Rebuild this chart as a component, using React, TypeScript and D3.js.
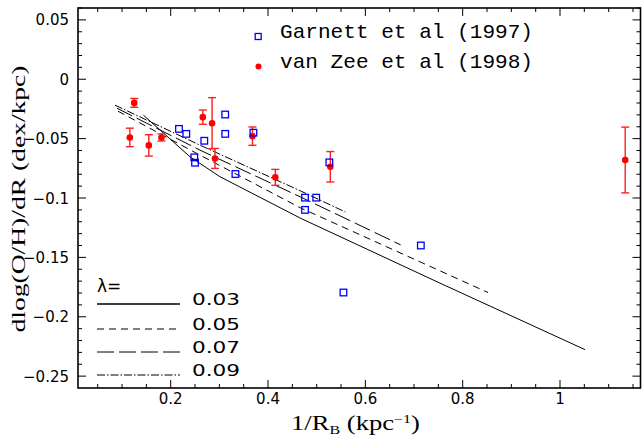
import React from "react";
import * as d3 from "d3";

// ---------- data ----------
const garnettX = [0.217, 0.232, 0.269, 0.2485, 0.25, 0.312, 0.312, 0.37, 0.333, 0.526, 0.476, 0.499, 0.476, 0.714, 0.555];
const garnettY = [-0.0418, -0.046, -0.0518, -0.0658, -0.0703, -0.0297, -0.046, -0.045, -0.0798, -0.07, -0.0997, -0.0997, -0.11, -0.14, -0.1796];

const vanZeeX = [0.125, 0.116, 0.155, 0.181, 0.266, 0.285, 0.291, 0.368, 0.415, 0.528, 1.134];
const vanZeeY = [-0.0199, -0.049, -0.0557, -0.049, -0.0319, -0.037, -0.0667, -0.0479, -0.0826, -0.0737, -0.068];
const vanZeeErr = [0.0037, 0.0078, 0.009, 0.003, 0.006, 0.0215, 0.0084, 0.0077, 0.0067, 0.0128, 0.0277];

const lambdaLabels = ["0.03", "0.05", "0.07", "0.09"];
const model003X = [0.1441, 0.2397, 0.3013, 0.4671, 0.7534, 1.0514];
const model003Y = [-0.0303, -0.0653, -0.0821, -0.1171, -0.1717, -0.2277];
const model005X = [0.0917, 0.2602, 0.4671, 0.8521];
const model005Y = [-0.0269, -0.0639, -0.1084, -0.1796];
const model007X = [0.0896, 0.2602, 0.4671, 0.6726];
const model007Y = [-0.0244, -0.0597, -0.0992, -0.1395];
const model009X = [0.0855, 0.2602, 0.4671, 0.559];
const model009Y = [-0.0218, -0.0555, -0.0941, -0.1118];

const xTickLabels = ["0.2", "0.4", "0.6", "0.8", "1"];
const yTickLabels = ["0.05", "0", "-0.05", "-0.1", "-0.15", "-0.2", "-0.25"];

const L = 78, R = 640.5, T = 8, B = 388;

export default function App() {
  const x = d3.scaleLinear().domain([0.0095, 1.1654]).range([L, R]);
  const y = d3.scaleLinear().domain([-0.26, 0.06]).range([B, T]);

  const line = d3.line<[number, number]>().x(d => x(d[0])).y(d => y(d[1]));
  const models = [
    { xs: model003X, ys: model003Y, dash: "none" },
    { xs: model005X, ys: model005Y, dash: "7,5" },
    { xs: model007X, ys: model007Y, dash: "17,5" },
    { xs: model009X, ys: model009Y, dash: "8,2,1.5,2" },
  ];

  const xMinor = d3.range(0.05, 1.16, 0.05);
  const yMinor = d3.range(-0.25, 0.0601, 0.01);
  const xMajor = xTickLabels.map(Number);
  const yMajor = yTickLabels.map(Number);
  const isMajorX = (v: number) => xMajor.some(m => Math.abs(m - v) < 1e-6);
  const isMajorY = (v: number) => yMajor.some(m => Math.abs(m - v) < 1e-6);

  const tickFont = "'DejaVu Sans', sans-serif";
  const fmt = (s: string) => s.replace("-", "\u2212");

  return (
    <div style={{ position: "absolute", left: 0, top: 0 }}>
      <svg width={642} height={436} style={{ display: "block", background: "#fff" }}>
        {/* ticks */}
        {xMinor.map((v, i) => {
          const len = isMajorX(v) ? 8 : 4;
          return (
            <g key={"xt" + i} stroke="#000" strokeWidth={1}>
              <line x1={x(v)} x2={x(v)} y1={B} y2={B - len} />
              <line x1={x(v)} x2={x(v)} y1={T} y2={T + len} />
            </g>
          );
        })}
        {yMinor.map((v, i) => {
          const len = isMajorY(v) ? 8 : 4;
          return (
            <g key={"yt" + i} stroke="#000" strokeWidth={1}>
              <line x1={L} x2={L + len} y1={y(v)} y2={y(v)} />
              <line x1={R} x2={R - len} y1={y(v)} y2={y(v)} />
            </g>
          );
        })}
        <rect x={L} y={T} width={R - L} height={B - T} fill="none" stroke="#000" strokeWidth={1.6} />

        {/* tick labels */}
        {xTickLabels.map((s, i) => (
          <text key={"xl" + i} x={x(Number(s))} y={404} textAnchor="middle" fontFamily={tickFont} fontSize={15}>{s}</text>
        ))}
        {yTickLabels.map((s, i) => (
          <text key={"yl" + i} x={69} y={y(Number(s)) + 5.5} textAnchor="end" fontFamily={tickFont} fontSize={15}>{fmt(s)}</text>
        ))}

        {/* axis titles */}
        <text x={291} y={430} fontFamily="'Liberation Serif', serif" fontSize={20} textLength={129} lengthAdjust="spacingAndGlyphs">
          1/R<tspan fontSize={12} dy={4}>B</tspan><tspan dy={-4}> (kpc</tspan><tspan fontSize={12} dy={-7}>−1</tspan><tspan dy={7}>)</tspan>
        </text>
        <text transform="translate(25,199) rotate(-90)" textAnchor="middle" fontFamily="'Liberation Serif', serif" fontSize={18} textLength={267} lengthAdjust="spacingAndGlyphs">
          dlog(O/H)/dR (dex/kpc)
        </text>

        {/* model lines */}
        <g clipPath="url(#clip)">
          {models.map((m, i) => (
            <path key={"m" + i} d={line(m.xs.map((v, j) => [v, m.ys[j]]) as [number, number][]) || ""} fill="none" stroke="#000" strokeWidth={1} strokeDasharray={m.dash} />
          ))}
        </g>

        {/* error bars + van Zee */}
        {vanZeeX.map((v, i) => {
          const cx = x(v);
          const y1 = y(vanZeeY[i] + vanZeeErr[i]);
          const y2 = y(vanZeeY[i] - vanZeeErr[i]);
          return (
            <g key={"vz" + i} stroke="#ff2020" strokeWidth={1.4}>
              <line x1={cx} x2={cx} y1={y1} y2={y2} />
              <line x1={cx - 4} x2={cx + 4} y1={y1} y2={y1} />
              <line x1={cx - 4} x2={cx + 4} y1={y2} y2={y2} />
              <circle cx={cx} cy={y(vanZeeY[i])} r={3.3} fill="#ff0000" stroke="none" />
            </g>
          );
        })}

        {/* Garnett squares */}
        {garnettX.map((v, i) => (
          <rect key={"g" + i} x={x(v) - 3.3} y={y(garnettY[i]) - 3.3} width={6.6} height={6.6} fill="none" stroke="#0000ff" strokeWidth={1.3} />
        ))}

        {/* data legend */}
        <rect x={255.2} y={33.5} width={6} height={6} fill="none" stroke="#0000ff" strokeWidth={1.3} />
        <text x={280} y={38} fontFamily="'Liberation Mono', monospace" fontSize={21} textLength={253} lengthAdjust="spacingAndGlyphs">Garnett et al (1997)</text>
        <circle cx={258.5} cy={66.5} r={3} fill="#ff0000" />
        <text x={280} y={67.5} fontFamily="'Liberation Mono', monospace" fontSize={21} textLength={253} lengthAdjust="spacingAndGlyphs">van Zee et al (1998)</text>

        {/* lambda legend */}
        <text x={97} y={292} fontFamily={tickFont} fontSize={17}>λ=</text>
        {models.map((m, i) => {
          const ly = [304, 329, 352, 375][i];
          return (
            <g key={"lg" + i}>
              <line x1={97} x2={180} y1={ly} y2={ly} stroke="#000" strokeWidth={i === 0 ? 1.6 : 1} strokeDasharray={m.dash} />
              <text x={192} y={ly + 1} fontFamily={tickFont} fontSize={16} textLength={48} lengthAdjust="spacingAndGlyphs">{lambdaLabels[i]}</text>
            </g>
          );
        })}
        <defs>
          <clipPath id="clip"><rect x={L} y={T} width={R - L} height={B - T} /></clipPath>
        </defs>
      </svg>
    </div>
  );
}
